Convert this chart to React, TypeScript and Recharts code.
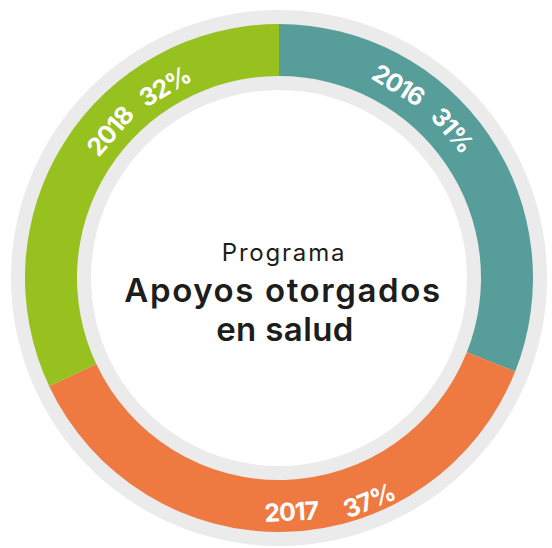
import React from 'react';
import { PieChart, Pie, Cell } from 'recharts';

const years = ['2016', '2017', '2018'];
const shares = [31, 37, 32];
const percentLabels = ['31%', '37%', '32%'];
const titleLines = ['Programa', 'Apoyos otorgados', 'en salud'];

const COLORS = ['#579D99', '#EE7941', '#97C11F'];
const RING_GRAY = '#EBEBEB';
const CX = 279;
const CY = 278;
const FONT = 'Inter, "Open Sans", sans-serif';

// label placement (clockwise degrees from 12 o'clock, radius), per slice
const LABEL_LAYOUT: Record<string, { year: [number, number]; pct: [number, number]; flip: boolean }> = {
  '2016': { year: [31.7, 227], pct: [49.5, 228], flip: false },
  '2017': { year: [177, 234], pct: [158, 240], flip: true },
  '2018': { year: [-49, 224], pct: [-30.8, 223], flip: false },
};

const data = years.map((y, i) => ({ name: y, value: shares[i], pct: percentLabels[i] }));
const bgData = [{ name: 'ring', value: 1 }];

function place(theta: number, r: number, flip: boolean) {
  const rad = (theta * Math.PI) / 180;
  const x = CX + r * Math.sin(rad);
  const y = CY - r * Math.cos(rad);
  const rot = flip ? theta - 180 : theta;
  return { x, y, rot };
}

function SliceLabel(props: any) {
  const { payload, index } = props;
  const name = payload?.name ?? years[index];
  const pct = payload?.pct ?? percentLabels[index];
  const layout = LABEL_LAYOUT[name];
  if (!layout) return null;
  const a = place(layout.year[0], layout.year[1], layout.flip);
  const b = place(layout.pct[0], layout.pct[1], layout.flip);
  const style = { fontFamily: FONT, fontWeight: 700, fontSize: 25, fill: '#ffffff' } as React.CSSProperties;
  return (
    <g>
      <text x={a.x} y={a.y} dy="0.36em" textAnchor="middle" transform={`rotate(${a.rot} ${a.x} ${a.y})`} style={style} letterSpacing={-1}>
        {name}
      </text>
      <text x={b.x} y={b.y} dy="0.36em" textAnchor="middle" transform={`rotate(${b.rot} ${b.x} ${b.y})`} style={style} letterSpacing={-1}>
        {pct}
      </text>
    </g>
  );
}

export default function App() {
  return (
    <div style={{ position: 'absolute', left: 0, top: 0, width: 552, height: 548, background: '#fff' }}>
      <PieChart width={552} height={548} margin={{ top: 0, right: 0, bottom: 0, left: 0 }}>
        <Pie
          data={bgData}
          dataKey="value"
          cx={CX}
          cy={CY}
          innerRadius={188}
          outerRadius={268}
          startAngle={90}
          endAngle={-270}
          stroke="none"
          isAnimationActive={false}
        >
          <Cell fill={RING_GRAY} />
        </Pie>
        <Pie
          data={data}
          dataKey="value"
          nameKey="name"
          cx={CX}
          cy={CY}
          innerRadius={202}
          outerRadius={254}
          startAngle={90}
          endAngle={-270}
          stroke="none"
          labelLine={false}
          label={SliceLabel}
          isAnimationActive={false}
        >
          {data.map((d, i) => (
            <Cell key={d.name} fill={COLORS[i]} />
          ))}
        </Pie>
        <text x={284} y={261} textAnchor="middle" letterSpacing={1.8} style={{ fontFamily: FONT, fontSize: 24, fontWeight: 400, fill: '#1D1D1B' }}>
          {titleLines[0]}
        </text>
        <text x={283} y={302} textAnchor="middle" letterSpacing={1.6} style={{ fontFamily: FONT, fontSize: 33, fontWeight: 600, fill: '#1D1D1B' }}>
          {titleLines[1]}
        </text>
        <text x={285} y={341} textAnchor="middle" letterSpacing={0.4} style={{ fontFamily: FONT, fontSize: 33, fontWeight: 600, fill: '#1D1D1B' }}>
          {titleLines[2]}
        </text>
      </PieChart>
    </div>
  );
}
